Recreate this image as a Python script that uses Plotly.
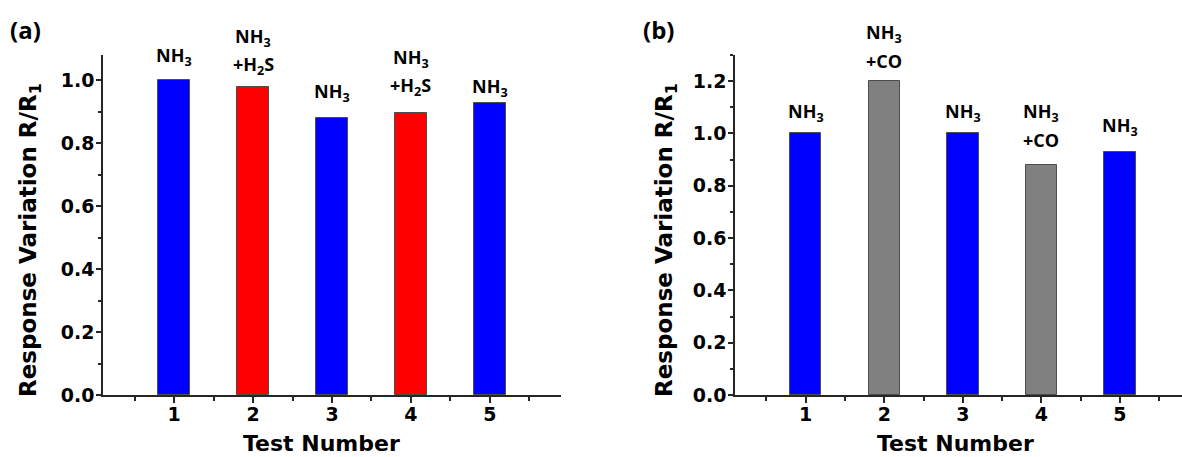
import plotly.graph_objects as go

# Test sequence and normalized responses (R/R1) for the two cross-sensitivity runs
tests = [1, 2, 3, 4, 5]
tick_labels = ["1", "2", "3", "4", "5"]

gas_h2s = ["NH3", "NH3+H2S", "NH3", "NH3+H2S", "NH3"]
resp_h2s = [1.0, 0.979, 0.88, 0.896, 0.926]

gas_co = ["NH3", "NH3+CO", "NH3", "NH3+CO", "NH3"]
resp_co = [1.0, 1.2, 1.0, 0.878, 0.928]

# Label lines (top to bottom) for each gas mixture
gas_text = {
    "NH3": ["NH<sub>3</sub>"],
    "NH3+H2S": ["NH<sub>3</sub>", "+H<sub>2</sub>S"],
    "NH3+CO": ["NH<sub>3</sub>", "+CO"],
}
gas_color = {"NH3": "#0000FF", "NH3+H2S": "#FF0000", "NH3+CO": "#808080"}

W, H = 1182, 457
TICK_FONT = dict(family="DejaVu Sans", size=19, color="black", weight="bold")
TITLE_FONT = dict(family="DejaVu Sans", size=22, color="black", weight="bold")
YTITLE_FONT = dict(family="DejaVu Sans", size=23, color="black", weight="bold")
LABEL_FONT = dict(family="Open Sans", size=18, color="black", weight="bold")
AX_COLOR = "#262626"

# pixel offsets of the lowest label line above each bar, and spacing between lines
label_gap_a = [24, 21, 25, 26, 16]
label_gap_b = [21, 20, 21, 25, 26]
LINE_STEP = 28

fig = go.Figure()


def add_panel(xref, yref, gases, values):
    fig.add_trace(go.Bar(
        x=tests, y=values, width=0.4,
        marker=dict(color=[gas_color[g] for g in gases],
                    line=dict(color="#4d4d4d", width=1)),
        xaxis=xref, yaxis=yref, hoverinfo="x+y",
    ))


def add_labels(xref, yref, gases, values, gaps):
    for x, g, v, gap in zip(tests, gases, values, gaps):
        lines = gas_text[g]
        for i, line in enumerate(reversed(lines)):
            fig.add_annotation(
                x=x, y=v, xref=xref, yref=yref, text=line, showarrow=False,
                xanchor="center", yanchor="middle", font=LABEL_FONT,
                yshift=gap + i * LINE_STEP,
            )


add_panel("x", "y", gas_h2s, resp_h2s)
add_panel("x2", "y2", gas_co, resp_co)
add_labels("x", "y", gas_h2s, resp_h2s, label_gap_a)
add_labels("x2", "y2", gas_co, resp_co, label_gap_b)

y_dom = [1 - 395 / H, 1 - 55 / H]


def xaxis_cfg(domain, rng, anchor):
    return dict(
        domain=domain, range=rng, anchor=anchor, automargin=False,
        tickmode="array", tickvals=tests, ticktext=tick_labels,
        ticks="outside", ticklen=6, tickwidth=1.5, tickcolor=AX_COLOR,
        ticklabelstandoff=-5,
        minor=dict(ticks="outside", ticklen=4, tickwidth=1.5, tickcolor=AX_COLOR,
                   dtick=0.5, tick0=0, showgrid=False),
        showline=True, linecolor=AX_COLOR, linewidth=1.5,
        showgrid=False, zeroline=False, tickfont=TICK_FONT,
        fixedrange=True,
    )


def yaxis_cfg(rng, anchor):
    return dict(
        domain=y_dom, range=rng, anchor=anchor, automargin=False,
        tick0=0, dtick=0.2, tickformat=".1f",
        ticks="outside", ticklen=5, tickwidth=1.5, tickcolor=AX_COLOR,
        ticklabelstandoff=-2,
        minor=dict(ticks="outside", ticklen=3, tickwidth=1.5, tickcolor=AX_COLOR,
                   dtick=0.1, tick0=0, showgrid=False),
        showline=True, linecolor=AX_COLOR, linewidth=1.5,
        showgrid=False, zeroline=False, tickfont=TICK_FONT,
        fixedrange=True,
    )


fig.update_layout(
    width=W, height=H,
    margin=dict(l=0, r=0, t=0, b=0),
    paper_bgcolor="white", plot_bgcolor="white",
    showlegend=False, bargap=0,
    xaxis=xaxis_cfg([103 / W, 561 / W], [0.1, 5.9], "y"),
    yaxis=yaxis_cfg([0, 1.08], "x"),
    xaxis2=xaxis_cfg([735 / W, 1.0], [0.1, 5.79], "y2"),
    yaxis2=yaxis_cfg([0, 1.3], "x2"),
)

# Panel tags and axis titles
for txt, px in [("(a)", 25), ("(b)", 658)]:
    fig.add_annotation(text=txt, x=px / W, y=1 - 29 / H, xref="paper", yref="paper",
                       showarrow=False, xanchor="center", yanchor="middle",
                       font=dict(family="Open Sans", size=24, color="black", weight="bold"))

for px in [321, 956]:
    fig.add_annotation(text="Test Number", x=px / W, y=1 - 443 / H,
                       xref="paper", yref="paper", showarrow=False,
                       xanchor="center", yanchor="middle", font=TITLE_FONT)

for px in [30, 666]:
    fig.add_annotation(text="Response Variation R/R<sub>1</sub>", x=px / W, y=1 - 240 / H,
                       xref="paper", yref="paper", showarrow=False, textangle=-90,
                       xanchor="center", yanchor="middle", font=YTITLE_FONT)

fig.write_html("out.html")
